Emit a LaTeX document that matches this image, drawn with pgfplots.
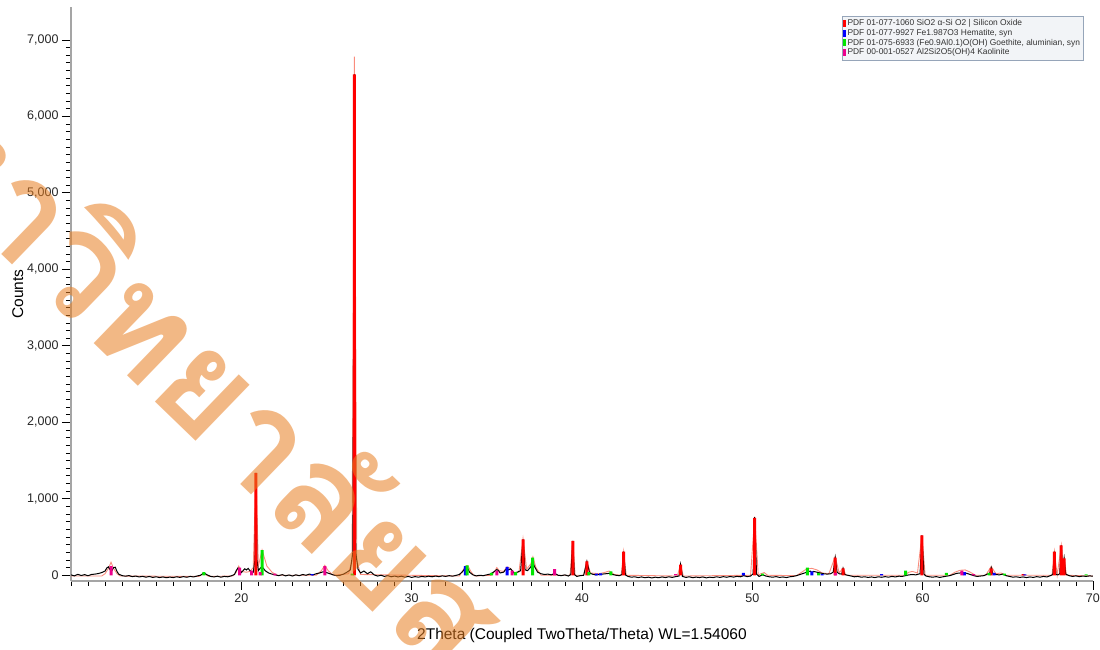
\documentclass[border=0pt]{standalone}
\usepackage{pgfplots}
\pgfplotsset{compat=1.18}
\usepackage{fontspec}
\setmainfont{Liberation Sans}
\newfontfamily\thaifont[Script=Thai]{Loma}
\definecolor{wmorange}{RGB}{231,126,33}
\definecolor{salmon}{RGB}{250,140,125}
\definecolor{stickgreen}{RGB}{0,230,0}
\definecolor{legfill}{RGB}{242,244,247}
\definecolor{legdraw}{RGB}{150,165,185}
\definecolor{axgray}{RGB}{165,165,165}
\begin{document}
\begin{tikzpicture}
\useasboundingbox (-71pt,-69pt) rectangle (1029pt,581pt);
\clip (-71pt,-69pt) rectangle (1029pt,581pt);
\begin{axis}[
  scale only axis, width=1022pt, height=574pt,
  at={(0pt,0pt)}, anchor=south west,
  xmin=10, xmax=70, ymin=-75, ymax=7430,
  axis x line*=bottom, axis y line*=left,
  axis line style={draw=axgray, line width=1.8pt},
  tick align=outside,
  tick style={black, line width=0.7pt},
  major tick length=9pt, minor tick length=5pt,
  xtick={20,30,...,70}, minor xtick={10,11,...,70},
  ytick={0,1000,...,7000}, minor y tick num=9,
  /pgf/number format/.cd, 1000 sep={,}, assume math mode=true,
  /pgfplots/.cd,
  ticklabel style={font=\fontsize{12.5}{14}\selectfont, text=black!85},
  xlabel={2Theta (Coupled TwoTheta/Theta) WL=1.54060},
  ylabel={Counts},
  label style={font=\fontsize{15.5}{17}\selectfont},
  xlabel style={yshift=-19pt},
  ylabel style={yshift=-3pt},
  legend style={at={(0.991,0.984)}, anchor=north east,
    font=\fontsize{8.4}{9.6}\selectfont, text=black!80,
    fill=legfill, draw=legdraw, inner sep=1.5pt, row sep=-2pt},
  legend cell align=left,
]
% calculated profile
\addplot[salmon, line width=0.9pt, forget plot] table {
10 -10
11.8 -10
12.0 20
12.2 90
12.35 170
12.5 90
12.7 20
12.9 -10
17.5 -15
17.8 20
18.1 -15
19.5 -10
19.7 40
19.85 120
20.0 50
20.3 40
20.5 50
20.7 100
20.86 1340
21.0 120
21.22 330
21.5 120
21.8 40
22.1 0
24.4 0
24.7 60
24.9 130
25.1 60
25.4 0
26.3 20
26.5 200
26.64 6780
26.78 200
27.0 10
32.8 -10
33.0 60
33.15 120
33.3 125
33.5 40
33.7 -10
34.7 0
34.9 60
35.0 100
35.15 60
35.4 50
35.6 110
35.8 90
36.0 40
36.3 40
36.54 480
36.75 80
37.0 150
37.12 240
37.3 100
37.6 0
39.3 0
39.46 450
39.6 0
40.1 0
40.29 185
40.5 30
41.0 20
41.3 35
41.6 55
41.9 10
42.3 0
42.45 310
42.6 0
45.6 -10
45.79 145
45.95 -10
49.9 0
50.14 765
50.35 0
50.5 20
50.7 35
50.9 0
52.6 -5
52.9 40
53.2 85
53.5 90
53.8 70
54.1 30
54.5 20
54.87 245
55.1 30
55.33 95
55.5 0
58.9 0
59.2 40
59.4 50
59.7 30
59.96 525
60.15 0
61.6 0
61.9 40
62.2 65
62.5 70
62.8 40
63.1 0
63.7 0
64.03 115
64.3 20
64.6 30
64.9 0
67.6 0
67.74 310
67.9 0
68.14 390
68.25 80
68.31 225
68.45 0
70 -10
};
% measured data
\addplot[black, line width=1pt, forget plot] table {
10.0 5
10.2 -8
10.4 12
10.6 -3
10.8 8
11.0 -6
11.2 10
11.4 15
11.6 22
11.8 35
12.0 55
12.1 95
12.2 110
12.3 70
12.4 60
12.5 100
12.6 105
12.7 50
12.8 15
13.0 -5
13.2 -12
13.4 -4
13.6 -18
13.8 -10
14.0 -22
14.2 -14
14.4 -25
14.6 -16
14.8 -28
15.0 -20
15.2 -30
15.4 -22
15.6 -32
15.8 -24
16.0 -30
16.2 -20
16.4 -28
16.6 -18
16.8 -26
17.0 -15
17.2 -22
17.4 -10
17.6 0
17.8 30
18.0 5
18.2 -15
18.4 -22
18.6 -12
18.8 -25
19.0 -15
19.2 -20
19.4 -8
19.6 10
19.7 60
19.8 95
19.9 80
20.0 35
20.1 60
20.2 85
20.3 70
20.4 90
20.5 60
20.6 50
20.7 40
20.8 200
20.86 1340
20.92 200
21.0 60
21.1 90
21.2 110
21.3 90
21.4 60
21.6 30
21.8 15
22.0 5
22.2 -5
22.4 8
22.6 -8
22.8 4
23.0 -10
23.2 6
23.4 -6
23.6 10
23.8 0
24.0 15
24.2 5
24.4 20
24.6 30
24.8 45
25.0 35
25.2 20
25.4 5
25.6 -5
25.8 0
26.0 15
26.2 40
26.4 70
26.55 300
26.64 6550
26.72 300
26.85 80
27.0 30
27.2 55
27.4 20
27.6 45
27.8 5
28.0 -10
28.2 0
28.4 -15
28.6 -5
28.8 -20
29.0 -10
29.2 -22
29.4 -12
29.6 -25
29.8 -15
30.0 -28
30.2 -18
30.4 -25
30.6 -15
30.8 -22
31.0 -12
31.2 -20
31.4 -10
31.6 -18
31.8 -8
32.0 -15
32.2 -5
32.4 -12
32.6 -2
32.8 10
33.0 50
33.1 80
33.2 75
33.3 85
33.4 40
33.6 5
33.8 -8
34.0 0
34.2 -5
34.4 5
34.6 15
34.8 40
35.0 75
35.1 60
35.2 30
35.4 40
35.5 70
35.6 90
35.7 70
35.8 85
35.9 60
36.0 30
36.2 40
36.4 60
36.54 470
36.66 70
36.8 60
37.0 110
37.1 200
37.2 120
37.4 40
37.6 20
37.8 10
38.0 15
38.2 5
38.4 25
38.6 0
38.8 -5
39.0 5
39.2 -10
39.35 10
39.46 450
39.55 10
39.7 -15
39.9 -5
40.1 0
40.29 180
40.45 30
40.6 15
40.8 5
41.0 10
41.2 15
41.4 20
41.6 25
41.8 10
42.0 0
42.2 -5
42.35 10
42.45 310
42.55 5
42.7 -15
42.9 -25
43.1 -20
43.3 -30
43.5 -22
43.7 -32
43.9 -25
44.1 -35
44.3 -25
44.5 -32
44.7 -22
44.9 -30
45.1 -20
45.3 -28
45.5 -18
45.7 -10
45.79 140
45.9 -15
46.1 -28
46.3 -20
46.5 -32
46.7 -24
46.9 -30
47.1 -22
47.3 -34
47.5 -25
47.7 -30
47.9 -20
48.1 -28
48.3 -18
48.5 -26
48.7 -16
48.9 -24
49.1 -14
49.3 -20
49.5 -5
49.7 -18
49.9 -10
50.05 20
50.14 760
50.25 15
50.4 -15
50.6 5
50.8 -10
51.0 -20
51.2 -25
51.4 -18
51.6 -28
51.8 -22
52.0 -30
52.2 -20
52.4 -15
52.6 -5
52.8 10
53.0 25
53.2 40
53.4 55
53.5 35
53.6 50
53.8 40
54.0 30
54.2 20
54.4 15
54.6 20
54.75 40
54.87 230
54.98 40
55.1 20
55.25 15
55.33 90
55.42 10
55.6 0
55.8 -10
56.0 -20
56.2 -15
56.4 -25
56.6 -20
56.8 -28
57.0 -22
57.2 -30
57.4 -20
57.6 -26
57.8 -18
58.0 -25
58.2 -15
58.4 -22
58.6 -12
58.8 -15
59.0 -5
59.2 5
59.4 10
59.6 5
59.85 20
59.96 520
60.08 15
60.2 -10
60.4 -20
60.6 -25
60.8 -18
61.0 -28
61.2 -20
61.4 -12
61.6 -5
61.8 10
62.0 25
62.2 30
62.4 35
62.6 25
62.8 10
63.0 -5
63.2 -15
63.4 -10
63.6 -5
63.8 15
63.95 30
64.03 100
64.12 25
64.3 10
64.5 5
64.7 15
64.9 -5
65.1 -15
65.3 -25
65.5 -20
65.7 -28
65.9 -22
66.1 -30
66.3 -22
66.5 -28
66.7 -18
66.9 -25
67.1 -15
67.3 -22
67.5 -5
67.65 10
67.74 310
67.83 10
67.95 5
68.05 20
68.14 390
68.22 60
68.31 220
68.4 15
68.6 -5
68.8 -15
69.0 -8
69.2 -18
69.4 -10
69.6 -15
69.8 -8
70.0 -12
};
% reference sticks
\addplot[ybar, bar width=3pt, bar shift=0pt, fill=red, draw=none,
  legend image code/.code={\fill[red] (-5pt,-3.5pt) rectangle (-2.8pt,3.5pt);}] table {
20.86 1340
26.64 6550
36.54 470
39.46 450
40.29 180
42.45 310
45.79 140
50.14 750
54.87 230
55.33 90
59.96 520
64.03 90
65.9 15
67.74 310
68.14 390
68.31 220
};
\addlegendentry{PDF 01-077-1060 SiO2 α-Si O2 | Silicon Oxide}
\addplot[ybar, bar width=3pt, bar shift=0pt, fill=blue, draw=none,
  legend image code/.code={\fill[blue] (-5pt,-3.5pt) rectangle (-2.8pt,3.5pt);}] table {
24.15 15
33.15 120
35.61 110
40.85 20
41.1 25
49.48 30
53.5 50
54.1 15
57.6 15
62.45 40
64.2 30
66.0 10
};
\addlegendentry{PDF 01-077-9927 Fe1.987O3 Hematite, syn}
\addplot[ybar, bar width=3pt, bar shift=0pt, fill=stickgreen, draw=none,
  legend image code/.code={\fill[stickgreen] (-5pt,-3.5pt) rectangle (-2.8pt,3.5pt);}] table {
17.8 40
21.22 330
26.5 20
33.26 130
34.7 30
36.1 40
37.1 230
40.4 40
41.7 50
50.6 20
53.23 100
53.9 30
59.0 60
61.4 30
63.9 30
64.8 20
69.6 10
};
\addlegendentry{PDF 01-075-6933 (Fe0.9Al0.1)O(OH) Goethite, aluminian, syn}
\addplot[ybar, bar width=3pt, bar shift=0pt, fill=magenta, draw=none,
  legend image code/.code={\fill[magenta] (-5pt,-3.5pt) rectangle (-2.8pt,3.5pt);}] table {
12.36 120
19.9 100
20.6 60
21.1 40
21.97 20
24.9 120
35.0 60
35.9 60
38.4 80
45.5 15
54.9 30
62.3 60
63.0 15
};
\addlegendentry{PDF 00-001-0527 Al2Si2O5(OH)4 Kaolinite}
\end{axis}
\node[rotate=-44, anchor=base west, inner sep=0pt, text=wmorange, opacity=0.55,
  font=\thaifont\bfseries\fontsize{140}{140}\selectfont] at (-49pt,307pt) {วิทยาลัยสงขลานครินทร์};
\node[rotate=-44, anchor=base east, inner sep=0pt, text=wmorange, opacity=0.55,
  font=\thaifont\bfseries\fontsize{140}{140}\selectfont] at (-49pt,307pt) {มหา};
\end{tikzpicture}
\end{document}
